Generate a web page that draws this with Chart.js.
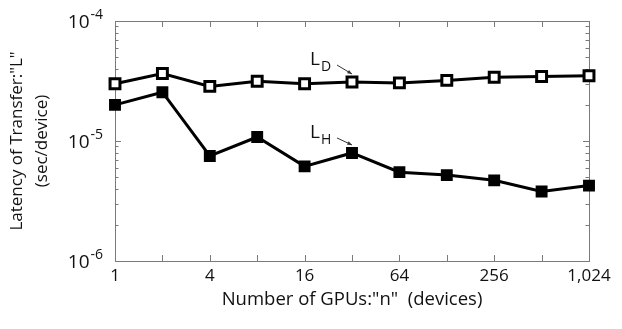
<!DOCTYPE html>
<html>
<head>
<meta charset="utf-8">
<script src="https://cdn.jsdelivr.net/npm/chart.js@4/dist/chart.umd.min.js"></script>
<style>
  html, body { margin: 0; padding: 0; background: #fff; }
  #wrap { width: 622px; height: 329px; position: relative; }
</style>
</head>
<body>
<div id="wrap"><canvas id="chart"></canvas></div>
<script>
// number of GPUs (x) and latency per device (y, sec/device)
const gpus = [1, 2, 4, 8, 16, 32, 64, 128, 256, 512, 1024];
const latencyD = [3.0e-5, 3.65e-5, 2.85e-5, 3.15e-5, 3.0e-5, 3.1e-5, 3.05e-5, 3.2e-5, 3.4e-5, 3.45e-5, 3.5e-5];
const latencyH = [2.0e-5, 2.55e-5, 7.5e-6, 1.08e-5, 6.15e-6, 7.95e-6, 5.5e-6, 5.2e-6, 4.7e-6, 3.8e-6, 4.25e-6];
const xTickLabels = [1, 4, 16, 64, 256, 1024];
const yDecades = [1e-6, 1e-5, 1e-4];
const yDecadeLabels = ['-6', '-5', '-4'];
const seriesNames = ['L_D', 'L_H'];

const FONT = "'Open Sans', 'DejaVu Sans', sans-serif";
const FRAME = '#7a7a7a';

// minor ticks 2..9 inside each decade
const yMinor = [];
yDecades.slice(0, -1).forEach(d => {
  for (let k = 2; k <= 9; k++) yMinor.push(d * k);
});

const framePlugin = {
  id: 'frame',
  beforeDatasetsDraw(chart) {
    const { ctx, chartArea: a, scales: { x, y } } = chart;
    ctx.save();
    ctx.strokeStyle = FRAME;
    ctx.lineWidth = 1;
    ctx.strokeRect(Math.round(a.left) + 0.5, Math.round(a.top) + 0.5,
      Math.round(a.right - a.left), Math.round(a.bottom - a.top));
    ctx.beginPath();
    gpus.forEach(v => {
      const px = Math.round(x.getPixelForValue(v)) + 0.5;
      ctx.moveTo(px, a.bottom); ctx.lineTo(px, a.bottom - 6);
      ctx.moveTo(px, a.top); ctx.lineTo(px, a.top + 6);
    });
    yDecades.forEach(v => {
      const py = Math.round(y.getPixelForValue(v)) + 0.5;
      ctx.moveTo(a.left, py); ctx.lineTo(a.left + 6, py);
      ctx.moveTo(a.right, py); ctx.lineTo(a.right - 6, py);
    });
    yMinor.forEach(v => {
      const py = Math.round(y.getPixelForValue(v)) + 0.5;
      ctx.moveTo(a.left, py); ctx.lineTo(a.left + 3.5, py);
      ctx.moveTo(a.right, py); ctx.lineTo(a.right - 3.5, py);
    });
    ctx.stroke();
    ctx.restore();
  },
  afterDraw(chart) {
    const { ctx, scales: { x, y } } = chart;
    ctx.save();
    ctx.fillStyle = '#111';
    ctx.textBaseline = 'middle';
    // y decade labels 10^n
    yDecades.forEach((v, i) => {
      const py = y.getPixelForValue(v);
      ctx.font = '14px ' + FONT;
      const supW = ctx.measureText(yDecadeLabels[i]).width;
      const supX = 103 - supW;
      ctx.textAlign = 'left';
      ctx.fillText(yDecadeLabels[i], supX, py - 6);
      ctx.font = '19px ' + FONT;
      ctx.textAlign = 'right';
      ctx.fillText('10', supX - 1, py + 2);
    });
    // series labels with arrows, anchored at the 32-GPU point
    const idx = gpus.indexOf(32);
    [[latencyD, 'D', -17], [latencyH, 'H', -15]].forEach(([arr, sub, dy]) => {
      const px = x.getPixelForValue(gpus[idx]);
      const py = y.getPixelForValue(arr[idx]);
      ctx.textAlign = 'left';
      ctx.textBaseline = 'alphabetic';
      ctx.font = '19px ' + FONT;
      ctx.fillText('L', px - 42, py + dy);
      ctx.font = '14px ' + FONT;
      ctx.fillText(sub, px - 31, py + dy + 6);
      // arrow
      const x0 = px - 15, y0 = py + dy, x1 = px, y1 = py - 8;
      ctx.strokeStyle = '#333';
      ctx.lineWidth = 1;
      ctx.beginPath(); ctx.moveTo(x0, y0); ctx.lineTo(x1, y1); ctx.stroke();
      const ang = Math.atan2(y1 - y0, x1 - x0);
      ctx.beginPath();
      ctx.moveTo(x1, y1);
      ctx.lineTo(x1 - 5 * Math.cos(ang - 0.4), y1 - 5 * Math.sin(ang - 0.4));
      ctx.lineTo(x1 - 5 * Math.cos(ang + 0.4), y1 - 5 * Math.sin(ang + 0.4));
      ctx.closePath();
      ctx.fillStyle = '#333';
      ctx.fill();
      ctx.fillStyle = '#111';
    });
    ctx.restore();
  }
};

new Chart(document.getElementById('chart'), {
  type: 'line',
  data: {
    datasets: [
      {
        label: seriesNames[0],
        data: gpus.map((n, i) => ({ x: n, y: latencyD[i] })),
        borderColor: '#000',
        borderWidth: 3,
        pointStyle: 'rect',
        pointRadius: 7,
        pointBorderWidth: 3,
        pointBackgroundColor: '#fff',
        pointBorderColor: '#000'
      },
      {
        label: seriesNames[1],
        data: gpus.map((n, i) => ({ x: n, y: latencyH[i] })),
        borderColor: '#000',
        borderWidth: 3,
        pointStyle: 'rect',
        pointRadius: 7,
        pointBorderWidth: 2,
        pointBackgroundColor: '#000',
        pointBorderColor: '#000'
      }
    ]
  },
  options: {
    responsive: true,
    maintainAspectRatio: false,
    animation: false,
    clip: false,
    layout: { padding: { top: 21, right: 33, bottom: 18, left: 0 } },
    plugins: {
      legend: { display: false },
      tooltip: { enabled: false }
    },
    elements: { line: { tension: 0 } },
    scales: {
      x: {
        type: 'logarithmic',
        min: 1,
        max: 1024,
        afterBuildTicks: s => { s.ticks = gpus.map(v => ({ value: v })); },
        afterFit: s => { s.height = 50; },
        grid: { display: false, drawTicks: false },
        border: { display: false },
        ticks: {
          autoSkip: false,
          maxRotation: 0,
          padding: 5,
          color: '#111',
          font: { family: FONT, size: 17 },
          callback: v => xTickLabels.includes(v) ? v.toLocaleString('en-US') : ''
        },
        title: {
          display: true,
          text: 'Number of GPUs:"n"  (devices)',
          color: '#111',
          font: { family: FONT, size: 18.5 },
          padding: { top: 0, bottom: 0 }
        }
      },
      y: {
        type: 'logarithmic',
        min: 1e-6,
        max: 1e-4,
        afterFit: s => { s.width = 115; },
        grid: { display: false, drawTicks: false },
        border: { display: false },
        ticks: { display: false },
        title: {
          display: true,
          text: ['Latency of Transfer:"L"', '(sec/device)'],
          color: '#111',
          font: { family: FONT, size: 17, lineHeight: 1.5 },
          padding: { top: 4, bottom: 0 }
        }
      }
    }
  },
  plugins: [framePlugin]
});
</script>
</body>
</html>
